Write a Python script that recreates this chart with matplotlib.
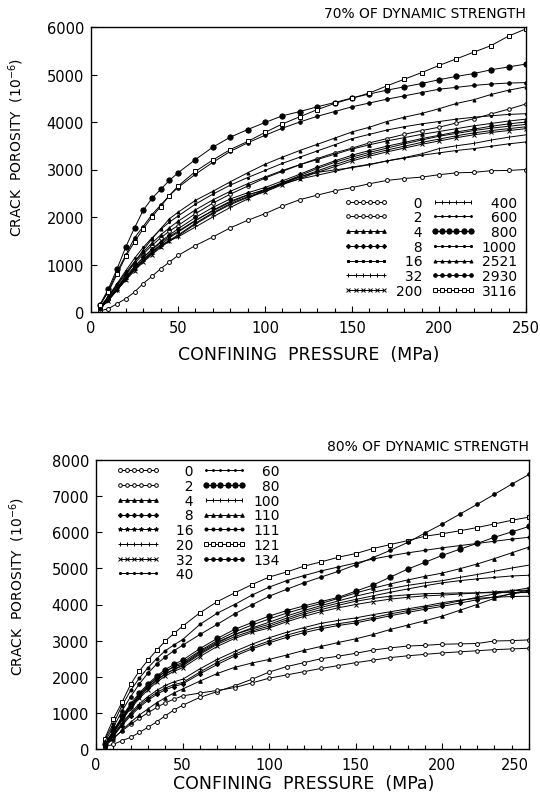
import matplotlib.pyplot as plt
from matplotlib.ticker import MultipleLocator

plt.rcParams['font.family'] = ['DejaVu Sans']

pressure = [5, 10, 15, 20, 25, 30, 35, 40, 45, 50, 60, 70, 80, 90, 100,
            110, 120, 130, 140, 150, 160, 170, 180, 190, 200, 210, 220, 230, 240, 250]

# 70% of dynamic strength: crack porosity (1e-6) after N cycles
a_0 = [20, 70, 175, 280, 420, 600, 750, 910, 1050, 1190, 1400, 1580, 1770, 1930, 2070,
       2230, 2365, 2460, 2550, 2620, 2700, 2770, 2810, 2840, 2890, 2930, 2940, 2975, 2980, 3000]
a_2 = [90, 300, 560, 800, 1020, 1220, 1400, 1560, 1700, 1820, 2070, 2290, 2480, 2650, 2820,
       2960, 3100, 3230, 3350, 3450, 3560, 3650, 3740, 3820, 3890, 3980, 4070, 4170, 4270, 4380]
a_4 = [90, 320, 580, 830, 1060, 1260, 1450, 1620, 1770, 1910, 2150, 2360, 2540, 2700, 2840,
       2980, 3100, 3210, 3320, 3430, 3520, 3600, 3670, 3740, 3800, 3860, 3920, 3970, 4020, 4060]
a_8 = [80, 280, 520, 750, 960, 1150, 1320, 1480, 1620, 1750, 1990, 2200, 2380, 2510, 2620,
       2760, 2900, 3050, 3180, 3300, 3400, 3490, 3570, 3650, 3720, 3790, 3850, 3910, 3960, 4000]
a_16 = [80, 270, 500, 720, 920, 1100, 1270, 1420, 1560, 1680, 1920, 2140, 2330, 2470, 2560,
        2720, 2870, 3020, 3150, 3260, 3360, 3450, 3540, 3620, 3700, 3760, 3820, 3870, 3910, 3950]
a_32 = [70, 250, 470, 690, 890, 1070, 1230, 1380, 1510, 1620, 1870, 2090, 2280, 2430, 2540,
        2700, 2840, 2970, 3100, 3220, 3320, 3410, 3490, 3570, 3640, 3710, 3770, 3820, 3860, 3900]
a_200 = [70, 240, 460, 670, 870, 1050, 1210, 1360, 1490, 1600, 1850, 2070, 2260, 2410, 2530,
         2680, 2810, 2940, 3060, 3180, 3280, 3370, 3450, 3530, 3600, 3670, 3730, 3780, 3820, 3860]
a_400 = [70, 250, 470, 690, 900, 1090, 1260, 1400, 1500, 1580, 1790, 2000, 2200, 2380, 2580,
         2720, 2850, 2940, 2990, 3040, 3100, 3180, 3250, 3330, 3440, 3500, 3550, 3620, 3680, 3730]
a_600 = [70, 260, 490, 720, 940, 1140, 1310, 1460, 1590, 1700, 1930, 2130, 2310, 2460, 2580,
         2700, 2800, 2880, 2960, 3050, 3110, 3180, 3240, 3300, 3350, 3400, 3440, 3490, 3540, 3580]
a_800 = [140, 490, 910, 1370, 1770, 2140, 2390, 2580, 2770, 2930, 3210, 3470, 3680, 3840, 3990,
         4130, 4220, 4320, 4410, 4505, 4590, 4670, 4740, 4810, 4890, 4960, 5020, 5100, 5160, 5220]
a_1000 = [100, 330, 600, 870, 1130, 1360, 1560, 1740, 1890, 2020, 2270, 2480, 2670, 2830, 2980,
          3130, 3260, 3390, 3520, 3650, 3740, 3830, 3900, 3960, 4010, 4060, 4100, 4130, 4160, 4175]
a_2521 = [100, 280, 490, 770, 1050, 1300, 1540, 1750, 1960, 2100, 2350, 2540, 2740, 2930, 3110,
          3260, 3400, 3530, 3660, 3790, 3890, 4010, 4100, 4180, 4280, 4390, 4470, 4580, 4670, 4740]
a_2930 = [130, 450, 850, 1200, 1560, 1800, 2050, 2250, 2450, 2620, 2900, 3150, 3380, 3560, 3720,
          3870, 4000, 4120, 4220, 4320, 4400, 4480, 4550, 4620, 4690, 4730, 4770, 4800, 4820, 4830]
a_3116 = [150, 420, 800, 1170, 1480, 1750, 2000, 2220, 2450, 2650, 2960, 3200, 3420, 3590, 3780,
          3960, 4110, 4260, 4390, 4500, 4610, 4760, 4900, 5040, 5190, 5330, 5470, 5610, 5810, 5960]

# 80% of dynamic strength
b_0 = [60, 130, 230, 320, 460, 600, 750, 920, 1080, 1210, 1430, 1590, 1750, 1930, 2130,
       2280, 2390, 2500, 2570, 2650, 2740, 2800, 2850, 2870, 2900, 2910, 2920, 2990, 3000, 3020]
b_2 = [100, 300, 500, 680, 850, 1000, 1150, 1280, 1380, 1470, 1550, 1620, 1700, 1830, 1960,
       2050, 2140, 2230, 2310, 2390, 2460, 2530, 2580, 2620, 2660, 2690, 2720, 2750, 2770, 2790]
b_4 = [80, 280, 520, 740, 940, 1110, 1280, 1420, 1550, 1660, 1880, 2090, 2260, 2380, 2480,
       2600, 2730, 2840, 2950, 3050, 3170, 3310, 3430, 3550, 3680, 3840, 4000, 4170, 4310, 4400]
b_8 = [90, 350, 650, 920, 1150, 1350, 1510, 1640, 1730, 1800, 2080, 2340, 2570, 2770, 2940,
       3090, 3220, 3330, 3420, 3490, 3590, 3690, 3780, 3870, 3950, 4040, 4130, 4210, 4290, 4370]
b_16 = [100, 380, 690, 960, 1200, 1400, 1560, 1690, 1780, 1840, 2130, 2400, 2620, 2820, 2990,
        3150, 3280, 3390, 3470, 3540, 3640, 3740, 3830, 3920, 4000, 4100, 4200, 4290, 4380, 4460]
b_20 = [110, 400, 720, 1000, 1250, 1450, 1620, 1760, 1860, 1930, 2220, 2480, 2700, 2900, 3080,
        3230, 3360, 3480, 3560, 3630, 3720, 3800, 3880, 3960, 4050, 4120, 4170, 4200, 4220, 4230]
b_32 = [120, 440, 800, 1120, 1400, 1640, 1850, 2020, 2150, 2250, 2560, 2840, 3060, 3230, 3350,
        3520, 3670, 3800, 3910, 4000, 4080, 4150, 4200, 4240, 4260, 4290, 4320, 4350, 4380, 4400]
b_40 = [130, 460, 830, 1160, 1450, 1700, 1910, 2080, 2200, 2300, 2620, 2900, 3110, 3270, 3400,
        3570, 3730, 3860, 3980, 4090, 4170, 4230, 4270, 4300, 4310, 4320, 4320, 4330, 4330, 4330]
b_60 = [140, 480, 860, 1200, 1500, 1760, 1980, 2150, 2270, 2350, 2690, 2960, 3170, 3320, 3450,
        3620, 3780, 3920, 4040, 4140, 4240, 4340, 4430, 4520, 4600, 4660, 4710, 4750, 4790, 4810]
b_80 = [150, 500, 900, 1250, 1550, 1800, 2020, 2200, 2340, 2460, 2780, 3060, 3310, 3500, 3680,
        3830, 3960, 4080, 4200, 4370, 4540, 4760, 4980, 5170, 5360, 5530, 5690, 5860, 6010, 6160]
b_100 = [130, 450, 830, 1160, 1450, 1700, 1900, 2070, 2210, 2330, 2650, 2930, 3170, 3350, 3510,
         3680, 3830, 3970, 4100, 4230, 4340, 4440, 4530, 4600, 4660, 4750, 4830, 4920, 5010, 5090]
b_110 = [140, 470, 860, 1200, 1500, 1750, 1960, 2140, 2290, 2400, 2720, 3000, 3240, 3430, 3600,
         3760, 3900, 4030, 4170, 4320, 4450, 4570, 4680, 4780, 4870, 4990, 5120, 5270, 5430, 5590]
b_111 = [250, 700, 1200, 1620, 1960, 2250, 2500, 2720, 2880, 3030, 3450, 3760, 4000, 4260, 4480,
         4660, 4800, 4930, 5040, 5150, 5260, 5350, 5430, 5500, 5570, 5630, 5690, 5750, 5810, 5860]
b_121 = [280, 830, 1290, 1790, 2160, 2460, 2730, 2990, 3200, 3400, 3770, 4080, 4320, 4550, 4760,
         4900, 5060, 5180, 5310, 5410, 5550, 5660, 5770, 5890, 5960, 6040, 6130, 6230, 6330, 6420]
b_134 = [200, 600, 1050, 1450, 1800, 2100, 2350, 2550, 2720, 2870, 3170, 3450, 3740, 3990, 4230,
         4420, 4600, 4760, 4920, 5100, 5300, 5500, 5720, 5980, 6230, 6500, 6770, 7050, 7330, 7600]

top_labels = ['0', '2', '4', '8', '16', '32', '200',
              '400', '600', '800', '1000', '2521', '2930', '3116']
top_series = [a_0, a_2, a_4, a_8, a_16, a_32, a_200,
              a_400, a_600, a_800, a_1000, a_2521, a_2930, a_3116]
bot_labels = ['0', '2', '4', '8', '16', '20', '32', '40',
              '60', '80', '100', '110', '111', '121', '134']
bot_series = [b_0, b_2, b_4, b_8, b_16, b_20, b_32, b_40,
              b_60, b_80, b_100, b_110, b_111, b_121, b_134]

# marker style per curve (marker, filled?, size)
top_marks = [('o', False, 2.8), ('o', False, 2.6), ('^', True, 2.6), ('D', True, 2.2),
             ('s', True, 2.0), ('+', True, 3.5), ('x', True, 2.4),
             ('|', True, 2.2), ('.', True, 2.6), ('o', True, 3.8), ('.', True, 3.0),
             ('^', True, 2.2), ('o', True, 2.6), ('s', False, 2.6)]
bot_marks = [('o', False, 2.8), ('o', False, 2.6), ('^', True, 2.6), ('D', True, 2.2),
             ('*', True, 3.2), ('+', True, 3.5), ('x', True, 2.4), ('.', True, 3.0),
             ('.', True, 2.6), ('o', True, 3.8), ('|', True, 2.2), ('^', True, 2.6),
             ('o', True, 2.2), ('s', False, 2.8), ('o', True, 2.6)]


def draw(ax, labels, series, marks, title, ymax, widths, legend_kw):
    handles = []
    for lab, vals, (m, filled, ms) in zip(labels, series, marks):
        ln, = ax.plot(pressure, vals, color='black', lw=0.7, marker=m, ms=ms,
                      mfc='black' if filled else 'white', mec='black', mew=0.7)
        handles.append(ln)
    # right-align the numbers with figure spaces
    col1 = (len(labels) + 1) // 2
    texts = [s.rjust(widths[0] if i < col1 else widths[1]).replace(' ', '\u2007')
             for i, s in enumerate(labels)]
    ax.legend(handles, texts, ncol=2, numpoints=6, frameon=False, fontsize=10,
              handlelength=3.2, handletextpad=0.5, columnspacing=0.6,
              labelspacing=0.05, borderpad=0, borderaxespad=0, **legend_kw)

    ax.set_xlim(0, 250)
    ax.set_ylim(0, ymax)
    ax.xaxis.set_major_locator(MultipleLocator(50))
    ax.xaxis.set_minor_locator(MultipleLocator(10))
    ax.yaxis.set_major_locator(MultipleLocator(1000))
    ax.tick_params(direction='in', labelsize=10.5, length=4, width=0.8)
    ax.tick_params(axis='x', which='minor', direction='in', length=3, width=0.8)
    ax.tick_params(axis='x', pad=6)
    ax.tick_params(axis='y', pad=5)
    for sp in ax.spines.values():
        sp.set_linewidth(1.0)
    ax.set_title(title, loc='right', fontsize=10, pad=7)
    ax.set_xlabel('CONFINING  PRESSURE  (MPa)', fontsize=12.5, labelpad=7)
    ax.set_ylabel('CRACK  POROSITY  (10$^{-6}$)', fontsize=10)


fig = plt.figure(figsize=(5.4, 8.04), dpi=100)
ax1 = fig.add_axes([91 / 540, 1 - 313 / 804, 435 / 540, 285 / 804])
ax2 = fig.add_axes([96 / 540, 1 - 750 / 804, 433 / 540, 289 / 804])

draw(ax1, top_labels, top_series, top_marks, '70% OF DYNAMIC STRENGTH', 6000, (3, 4),
     dict(loc='lower right', bbox_to_anchor=(0.98, 0.05)))
draw(ax2, bot_labels, bot_series, bot_marks, '80% OF DYNAMIC STRENGTH', 8000, (3, 3),
     dict(loc='upper left', bbox_to_anchor=(0.045, 0.985)))

ax1.yaxis.set_label_coords(-0.15, 0.58)
ax2.yaxis.set_label_coords(-0.16, 0.565)
ax2.xaxis.set_label_coords(0.48, -0.085)

# keep the "250" of the lower panel inside the picture
fig.canvas.draw()
for t in ax2.xaxis.get_major_ticks():
    if abs(t.get_loc() - 250) < 1e-6:
        t.label1.set_horizontalalignment('right')
        t.label1.set_x(t.get_loc())

fig.savefig('out.png', dpi=100)
